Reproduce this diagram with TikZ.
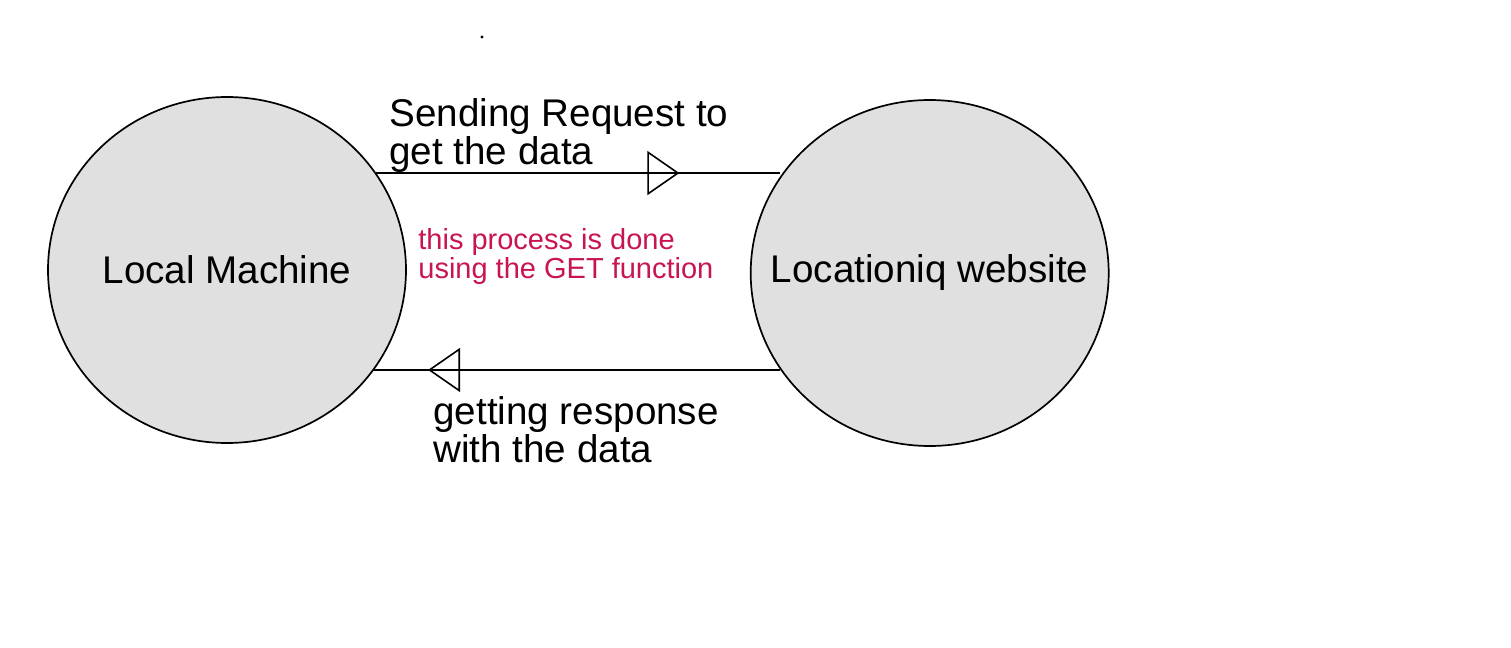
\documentclass[tikz,border=0pt]{standalone}
\usepackage{fontspec}
\setmainfont{Liberation Sans}
\usepackage{xcolor}
\usetikzlibrary{arrows.meta,positioning,shapes.geometric,decorations.markings}
\definecolor{notecolor}{RGB}{200,20,80}
\definecolor{hostfill}{RGB}{224,224,224}

\begin{document}
\begin{tikzpicture}[
    x=0.5pt, y=-0.5pt,
    host/.style={ellipse, draw, fill=hostfill, line width=0.85pt, inner sep=0pt, minimum width=179pt, minimum height=173pt,
        label={[font=\fontsize{19.3}{19}\selectfont]center:#1}},
    msg/.style={inner sep=0pt, align=left, font=\fontsize{19.3}{19}\selectfont},
    note/.style={inner sep=0pt, align=left, text=notecolor, font=\fontsize{14.5}{14.5}\selectfont},
    midtip/.style={line width=0.8pt, postaction={decorate}, decoration={markings, mark=at position #1 with {\arrow{Triangle[open, length=16pt, width=22pt, line width=0.8pt]}}}}
]
    \useasboundingbox (0,0) rectangle (1511,648);
    \fill (482,37) circle[radius=0.8pt];

    % the two hosts
    \node[host=Local Machine] (local) at (227,270) {};
    \node[host=Locationiq website, right=171.5pt of local, yshift=-1.5pt] (site) {};

    % request and response
    \draw[midtip=0.75] (local.33) -- (local.33 -| site.147);
    \draw[midtip=0.868] (site.213.5) -- (site.213.5 -| local.-34.6);

    % labels
    \node[msg, anchor=south west] (reqlabel) at (389,173) {Sending Request to\\get the data};
    \node[msg, anchor=north west] (reslabel) at (433,396) {getting response\\with the data};
    \node[note, anchor=north west] (getnote) at (418,228) {this process is done\\using the GET function};
\end{tikzpicture}
\end{document}
